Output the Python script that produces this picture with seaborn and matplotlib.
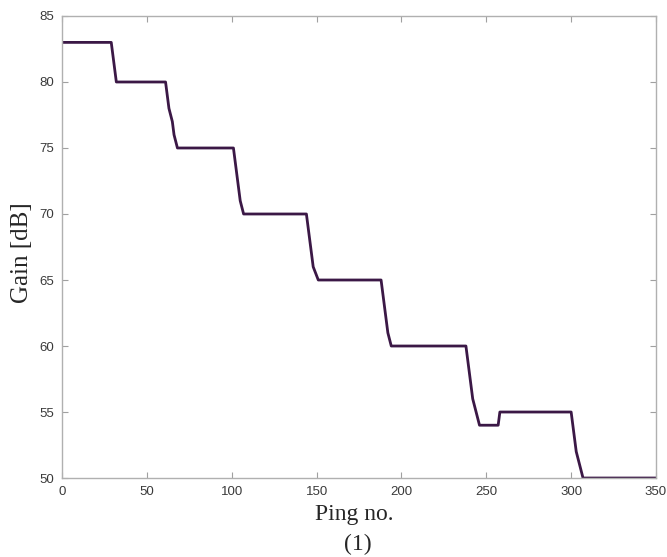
import matplotlib
matplotlib.use("Agg")
import matplotlib.pyplot as plt
import seaborn as sns
import pandas as pd

# Vertices of the gain curve (ping number, gain in dB)
ping_no = [0, 29, 30, 31, 32,
           61, 62, 63, 65, 66, 68,
           101, 102, 103, 104, 105, 107,
           144, 145, 146, 147, 148, 151,
           188, 189, 190, 191, 192, 194,
           238, 239, 240, 241, 242, 244, 246,
           257, 258,
           300, 301, 302, 303, 305, 307, 350]
gain_db = [83, 83, 82, 81, 80,
           80, 79, 78, 77, 76, 75,
           75, 74, 73, 72, 71, 70,
           70, 69, 68, 67, 66, 65,
           65, 64, 63, 62, 61, 60,
           60, 59, 58, 57, 56, 55, 54,
           54, 55,
           55, 54, 53, 52, 51, 50, 50]

x_ticks = [0, 50, 100, 150, 200, 250, 300, 350]
y_ticks = [50, 55, 60, 65, 70, 75, 80, 85]

df = pd.DataFrame({"ping": ping_no, "gain": gain_db})

sns.set_style("white")
fig = plt.figure(figsize=(6.67, 5.57), dpi=100)
ax = fig.add_axes([0.093, 0.1418, 0.8905, 0.8295])

sns.lineplot(data=df, x="ping", y="gain", ax=ax, estimator=None, sort=False,
             color="#3b1846", linewidth=2.0)

ax.set_xlim(0, 350)
ax.set_ylim(50, 85)
ax.set_xticks(x_ticks)
ax.set_yticks(y_ticks)
ax.set_xlabel("")
ax.set_ylabel("")

for s in ax.spines.values():
    s.set_visible(True)
    s.set_color("#b0b0b0")
    s.set_linewidth(1.0)

ax.tick_params(axis="both", direction="in", length=4, width=0.8, color="#a0a0a0",
               labelsize=9.5, labelcolor="#3a3a3a", top=True, right=True,
               bottom=True, left=True, pad=6)
for lab in ax.get_xticklabels() + ax.get_yticklabels():
    lab.set_fontfamily("Liberation Sans")

fig.text(0.531, 0.0664, "Ping no.", ha="center", va="baseline",
         fontfamily="Liberation Serif", fontsize=17)
fig.text(0.536, 0.0126, "(1)", ha="center", va="baseline",
         fontfamily="Liberation Serif", fontsize=17)
fig.text(0.033, 0.546, "Gain [dB]", ha="center", va="center", rotation=90,
         fontfamily="Liberation Serif", fontsize=18)

fig.savefig("out.png", dpi=100)
